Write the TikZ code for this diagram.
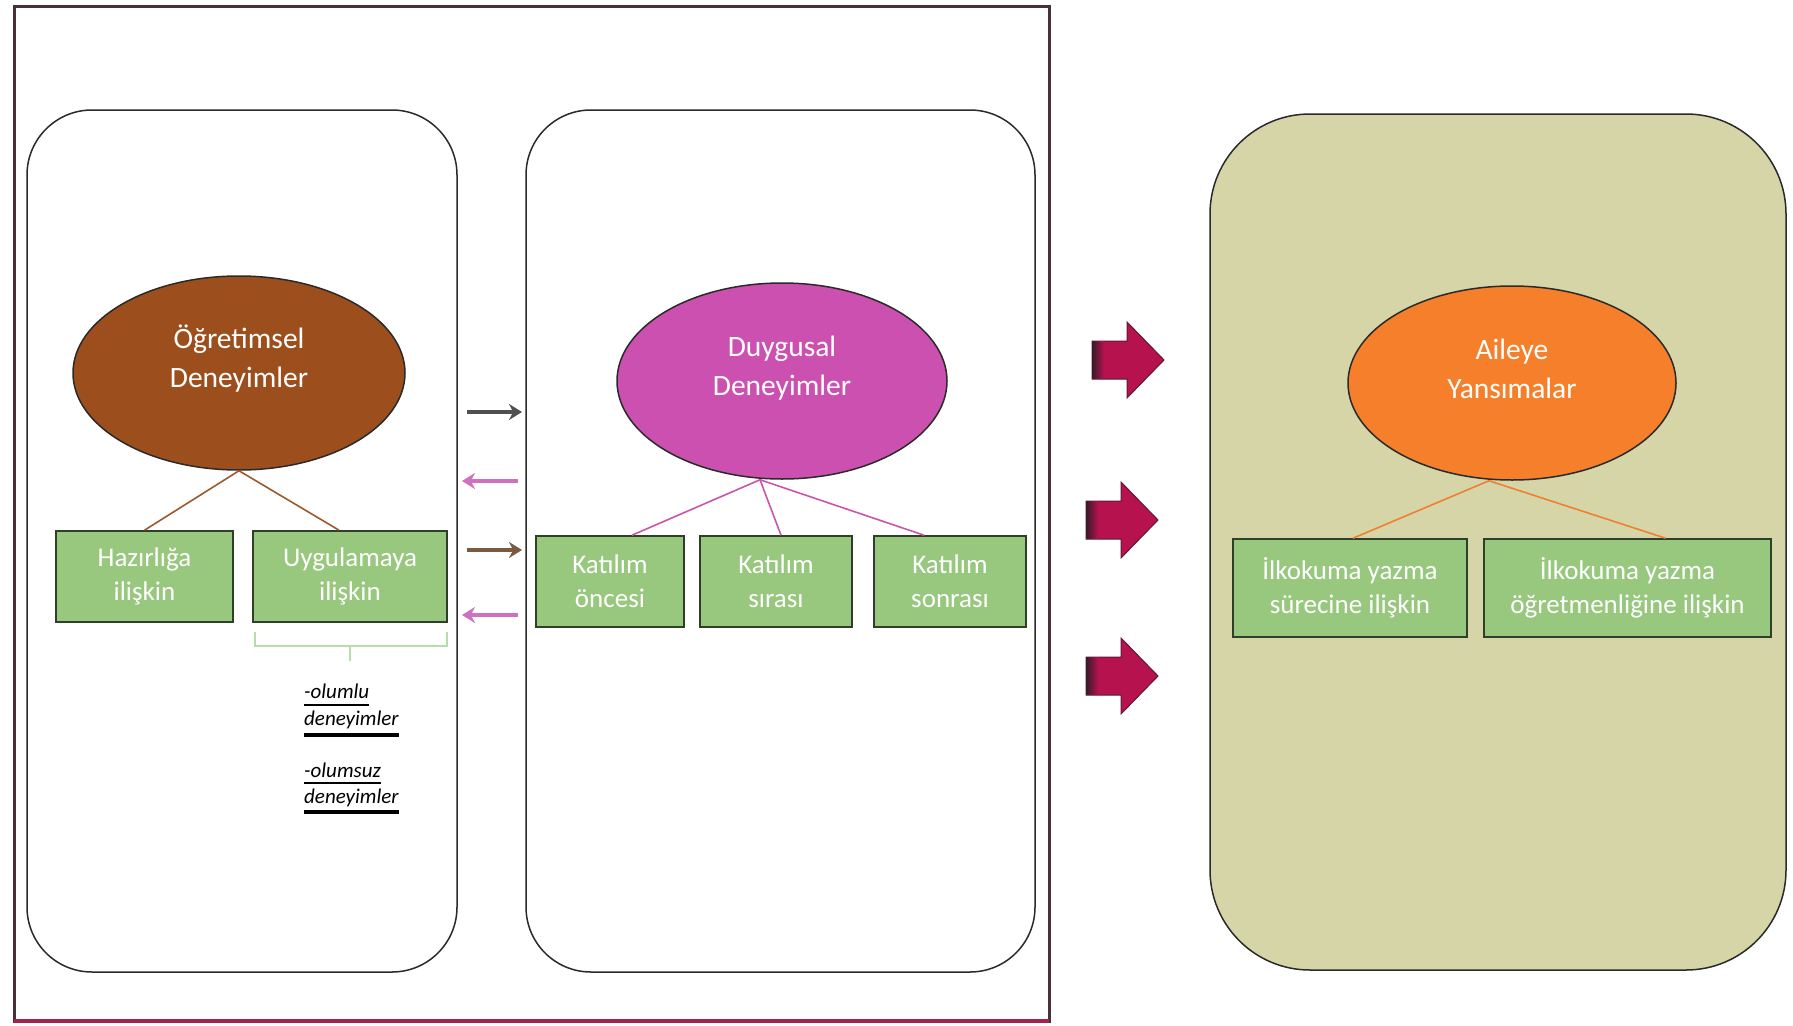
\documentclass[tikz,border=0pt]{standalone}
\usepackage{fontspec}
\setmainfont{Carlito}
\usetikzlibrary{shapes.geometric,arrows.meta}
\definecolor{framedark}{HTML}{4A3038}
\definecolor{framecrim}{HTML}{A3224E}
\definecolor{panelline}{HTML}{2A2A2A}
\definecolor{khaki}{HTML}{D6D5A8}
\definecolor{boxgreen}{HTML}{98C77E}
\definecolor{boxline}{HTML}{2F3F2A}
\definecolor{ebrown}{HTML}{9C4F1C}
\definecolor{epink}{HTML}{CC50B0}
\definecolor{eorange}{HTML}{F57F2B}
\definecolor{lbrown}{HTML}{9C5A2C}
\definecolor{lpink}{HTML}{CC55AA}
\definecolor{lorange}{HTML}{F08030}
\definecolor{agray}{HTML}{505050}
\definecolor{apink}{HTML}{D070C0}
\definecolor{abrown}{HTML}{7A5A40}
\definecolor{crim}{HTML}{B5124E}
\definecolor{crimdark}{HTML}{3A1A2A}
\definecolor{brgreen}{HTML}{B8DDA8}
\begin{document}
\begin{tikzpicture}[x=1pt,y=-1pt,
  panelbox/.style={draw=panelline,line width=1.5pt,rounded corners=65pt},
  ell/.style={ellipse,draw=panelline,line width=1.5pt,inner sep=0pt},
  etext/.style={text=white,align=center,font=\fontsize{29.5}{39}\selectfont},
  gbox/.style={rectangle,fill=boxgreen,draw=boxline,line width=1.6pt,inner sep=0pt,
     text=white,align=center,font=\fontsize{27}{34}\selectfont},
  conn/.style={line width=1.6pt},
  small/.style={line width=4pt,-{Stealth[length=13pt,width=16pt]}},
  ital/.style={anchor=base west,inner sep=0pt,font=\fontsize{21}{24}\selectfont\itshape},
  bigarrow/.style={fill=crim,draw=crimdark!70!crim,line width=1pt}
]
\useasboundingbox (0,0) rectangle (1793,1025);
\fill[white] (0,0) rectangle (1793,1025);

% outer frame
\draw[framedark,line width=3pt] (14,7) rectangle (1049,1021);
\draw[framecrim,line width=3.5pt] (14,1021) -- (1049,1021);

% panels
\draw[panelbox] (27,110) rectangle (457,972);
\draw[panelbox] (526,110) rectangle (1035,972);
\draw[panelbox,fill=khaki,rounded corners=100pt] (1210,114) rectangle (1786,970);

% ellipses
\node[ell,fill=ebrown,minimum width=332pt,minimum height=194pt] (e1) at (239,373) {};
\node[etext] (t1) at ([yshift=14pt]e1.center) {Öğretimsel\\Deneyimler};
\node[ell,fill=epink,minimum width=330pt,minimum height=196pt] (e2) at (782,381) {};
\node[etext] (t2) at ([yshift=13pt]e2.center) {Duygusal\\Deneyimler};
\node[ell,fill=eorange,minimum width=328pt,minimum height=194pt] (e3) at (1512,383) {};
\node[etext] (t3) at ([yshift=14pt]e3.center) {Aileye\\Yansımalar};

% boxes
\node[gbox,minimum width=177pt,minimum height=91pt] (b1) at (144.5,576.5) {Hazırlığa\\ilişkin};
\node[gbox,minimum width=194pt,minimum height=91pt] (b2) at (350,576.5) {Uygulamaya\\ilişkin};
\node[gbox,minimum width=148pt,minimum height=91pt] (b3) at (610,581.5) {Katılım\\öncesi};
\node[gbox,minimum width=152pt,minimum height=91pt] (b4) at (776,581.5) {Katılım\\sırası};
\node[gbox,minimum width=152pt,minimum height=91pt] (b5) at (950,581.5) {Katılım\\sonrası};
\node[gbox,minimum width=234pt,minimum height=98pt] (b6) at (1350,588) {İlkokuma yazma\\sürecine ilişkin};
\node[gbox,minimum width=287pt,minimum height=98pt] (b7) at (1627.5,588) {İlkokuma yazma\\öğretmenliğine ilişkin};

% connectors
\draw[conn,lbrown] (e1.south) -- (b1.north);
\draw[conn,lbrown] (e1.south) -- ([xshift=-11pt]b2.north);
\draw[conn,lpink] ([xshift=-22pt]e2.south) -- ([xshift=22pt]b3.north);
\draw[conn,lpink] ([xshift=-22pt]e2.south) -- ([xshift=5pt]b4.north);
\draw[conn,lpink] ([xshift=-22pt]e2.south) -- ([xshift=-26pt]b5.north);
\draw[conn,lorange] ([xshift=-23pt]e3.south) -- ([xshift=3pt]b6.north);
\draw[conn,lorange] ([xshift=-23pt]e3.south) -- ([xshift=38pt]b7.north);

% small arrows between panels
\coordinate (s1a) at (467,412); \coordinate (s1b) at (522,412);
\coordinate (s2a) at (518,481); \coordinate (s2b) at (462,481);
\coordinate (s3a) at (467,550); \coordinate (s3b) at (522,550);
\coordinate (s4a) at (518,615); \coordinate (s4b) at (462,615);
\draw[small,agray] (s1a) -- (s1b);
\draw[small,apink] (s2a) -- (s2b);
\draw[small,abrown] (s3a) -- (s3b);
\draw[small,apink] (s4a) -- (s4b);

% bracket under Uygulamaya
\draw[brgreen,line width=2pt] (255,632) -- (255,646) -- (447,646) -- (447,632);
\draw[brgreen,line width=2pt] (350,646) -- (350,661);

% italic notes
\node[ital] (n1) at (304,698) {-olumlu};
\node[ital] (n2) at (304,725) {deneyimler};
\node[ital] (n3) at (304,777) {-olumsuz};
\node[ital] (n4) at (304,803) {deneyimler};
\draw[line width=1.5pt] ([yshift=-7pt]n1.base west) -- ([yshift=-7pt]n1.base east);
\draw[line width=4pt] ([yshift=-10pt]n2.base west) -- ([yshift=-10pt]n2.base east);
\draw[line width=1.5pt] ([yshift=-6pt]n3.base west) -- ([yshift=-6pt]n3.base east);
\draw[line width=4pt] ([yshift=-9pt]n4.base west) -- ([yshift=-9pt]n4.base east);

% big arrows
\foreach \x/\y [count=\i] in {1092/360,1086/520,1086/676}{
  \draw[bigarrow] (\x,\y-19) -- (\x+35,\y-19) -- (\x+35,\y-38) -- (\x+72,\y) -- (\x+35,\y+38) -- (\x+35,\y+19) -- (\x,\y+19) -- cycle;
  \fill[left color=crimdark,right color=crim] (\x+0.5,\y-18.5) rectangle (\x+12,\y+18.5);
}
\end{tikzpicture}
\end{document}
